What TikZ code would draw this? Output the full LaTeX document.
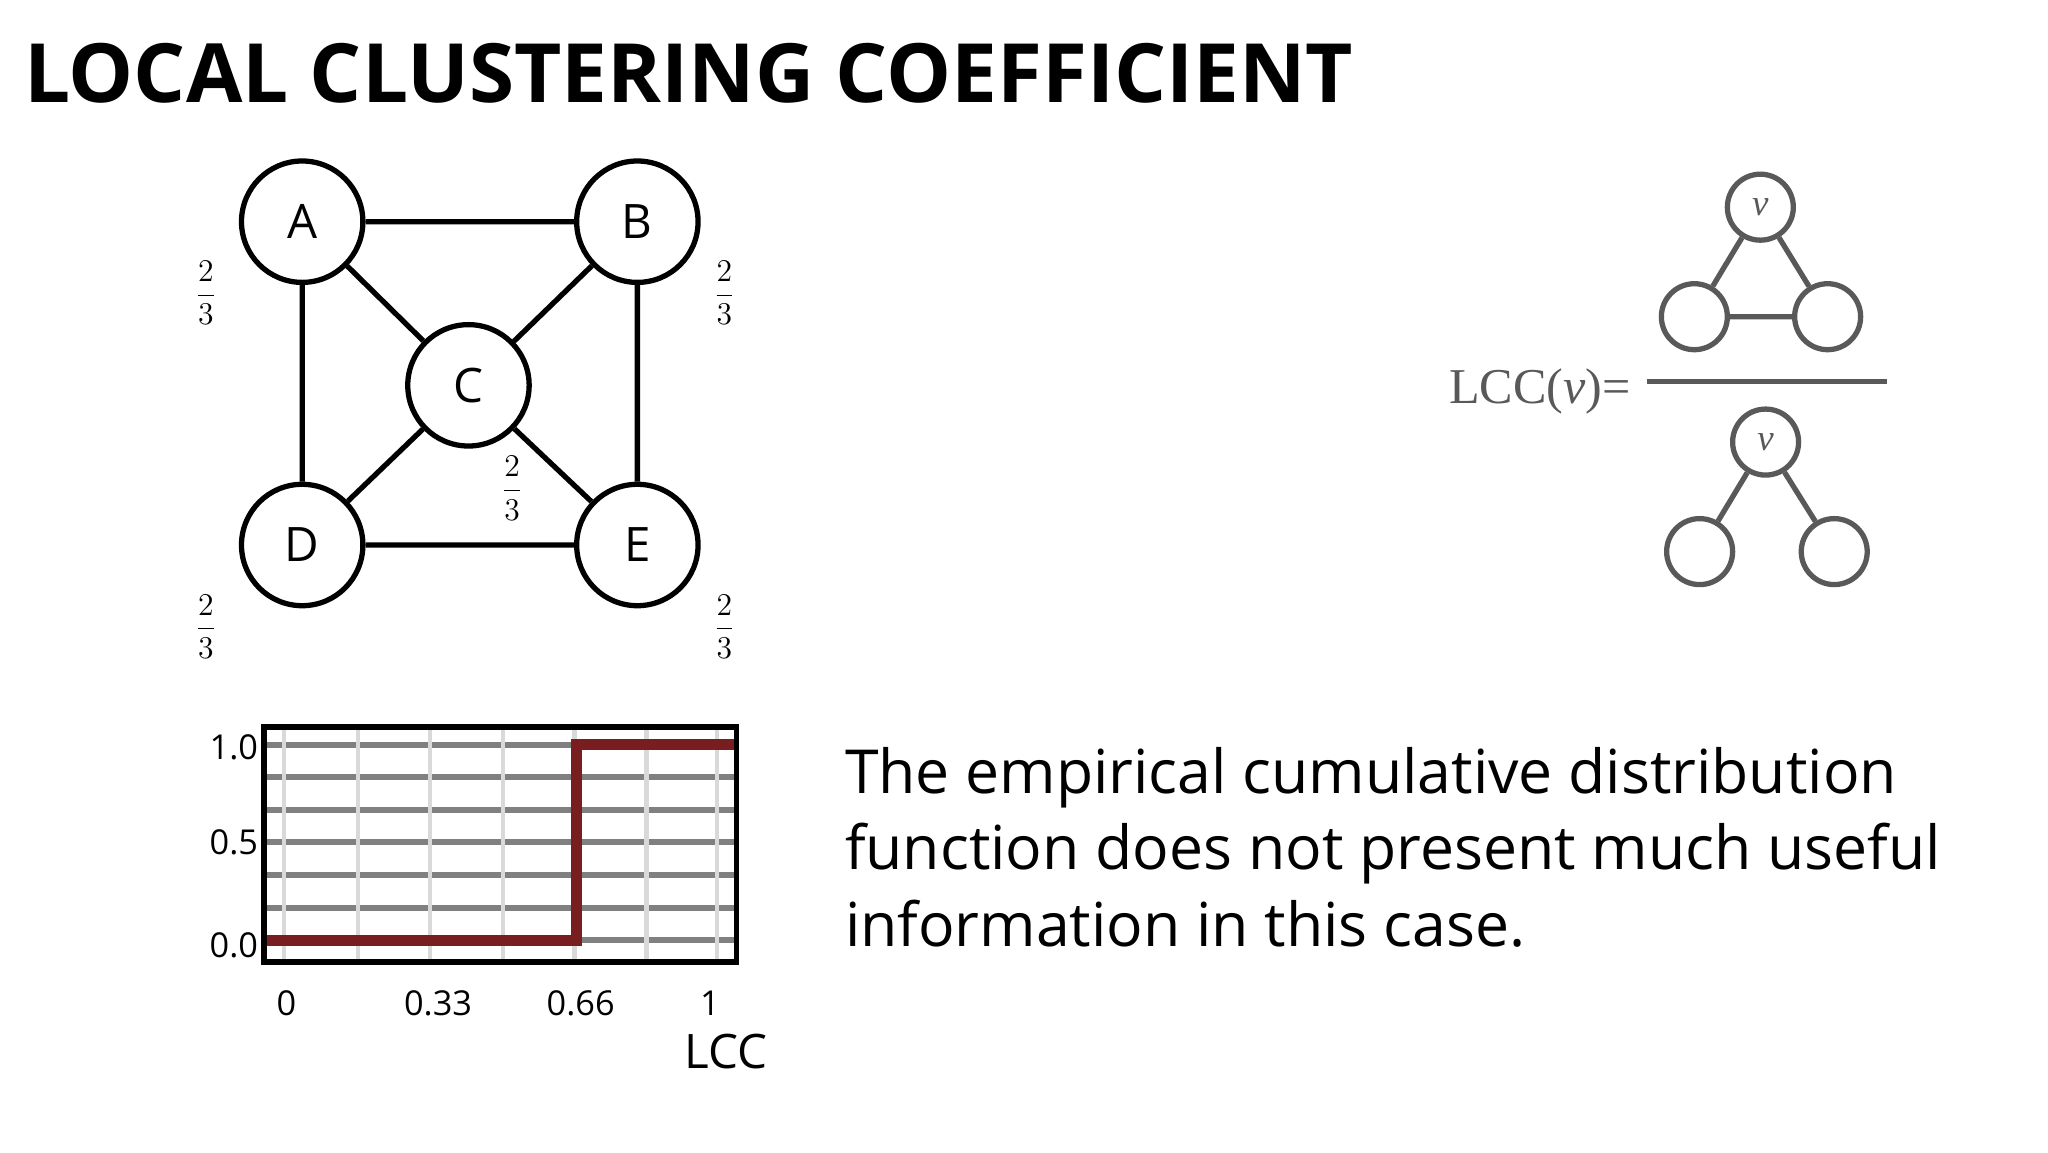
\documentclass[tikz,border=0pt]{standalone}
\usepackage{fontspec}
\setmainfont{Open Sans}
\newfontfamily\serifm{Liberation Serif}
\begin{document}
\begin{tikzpicture}[x=0.5pt,y=-0.5pt,
  gnode/.style={circle,draw=black,line width=2pt,fill=white,minimum size=46pt,inner sep=0pt,font=\fontsize{18}{20}\selectfont},
  gedge/.style={line width=2pt},
  fr/.style={font=\fontsize{12}{12}\selectfont,inner sep=0pt},
  vnode/.style={circle,draw=black!65,line width=2pt,fill=white,minimum size=25pt,inner sep=0pt,font=\serifm\itshape\fontsize{14}{14}\selectfont,text=black!65},
  vedge/.style={line width=2pt,draw=black!65},
  tick/.style={font=\fontsize{13}{13}\selectfont,inner sep=0pt}]
\useasboundingbox (0,0) rectangle (1552,873);
\fill[white] (0,0) rectangle (1552,873);
\node[anchor=base west,inner sep=0pt,font=\bfseries\fontsize{31}{34}\selectfont] (title) at (18,78) {LOCAL CLUSTERING COEFFICIENT};
% graph
\node[gnode] (A) at (229,168) {A};
\node[gnode] (B) at (483,168) {B};
\node[gnode] (C) at (355,292) {C};
\node[gnode] (D) at (229,413) {D};
\node[gnode] (E) at (483,413) {E};
\draw[gedge] (A)--(B) (A)--(D) (B)--(E) (D)--(E) (A)--(C) (B)--(C) (D)--(C) (E)--(C);
\node[fr] (fA) at (156,222) {$\displaystyle\frac{2}{3}$};
\node[fr] (fB) at (549,222) {$\displaystyle\frac{2}{3}$};
\node[fr] (fC) at (388,370) {$\displaystyle\frac{2}{3}$};
\node[fr] (fD) at (156,475) {$\displaystyle\frac{2}{3}$};
\node[fr] (fE) at (549,475) {$\displaystyle\frac{2}{3}$};
% formula
\node[anchor=base east,inner sep=0pt,text=black!65,font=\serifm\fontsize{19}{19}\selectfont] (lcc) at (1236,306) {LCC(\textit{v})=};
\coordinate (l1) at (1248,289); \coordinate (l2) at (1430,289);
\draw[vedge] (l1)--(l2);
\node[vnode] (v1) at (1334,157) {v};
\node[vnode] (a1) at (1284,240) {};
\node[vnode] (b1) at (1385,240) {};
\draw[vedge] (v1)--(a1) (v1)--(b1) (a1)--(b1);
\node[vnode] (v2) at (1338,335) {v};
\node[vnode] (a2) at (1288,418) {};
\node[vnode] (b2) at (1390,418) {};
\draw[vedge] (v2)--(a2) (v2)--(b2);
% chart
\foreach \y in {564.3,588.9,613.6,638.3,663.2,687.8,712.5}{\draw[line width=2.2pt,draw=black!50] (201,\y)--(557,\y);}
\foreach \x in {215.4,271,326,381,435.4,490,543.6}{\draw[line width=1.6pt,draw=black!15] (\x,553)--(\x,727);}
\draw[line width=4pt,draw={rgb,255:red,120;green,30;blue,32}] (202,712.5)--(437,712.5)--(437,564.3)--(557,564.3);
\node[draw,line width=2pt,minimum width=179pt,minimum height=89pt,inner sep=0pt] (box) at (379,640) {};
\node[tick,anchor=east] (y1) at (196,566) {1.0};
\node[tick,anchor=east] (y5) at (196,638) {0.5};
\node[tick,anchor=east] (y0) at (196,716) {0.0};
\node[tick] (x0) at (217,760) {0};
\node[tick] (x33) at (332,760) {0.33};
\node[tick] (x66) at (440,760) {0.66};
\node[tick] (x1) at (538,760) {1};
\node[font=\fontsize{18}{18}\selectfont,inner sep=0pt] (xl) at (550,797) {LCC};
\node[anchor=base west,align=left,inner sep=0pt,font=\fontsize{23}{29}\selectfont] (txt) at (640,717) {The empirical cumulative distribution\\function does not present much useful\\information in this case.};
\end{tikzpicture}
\end{document}
